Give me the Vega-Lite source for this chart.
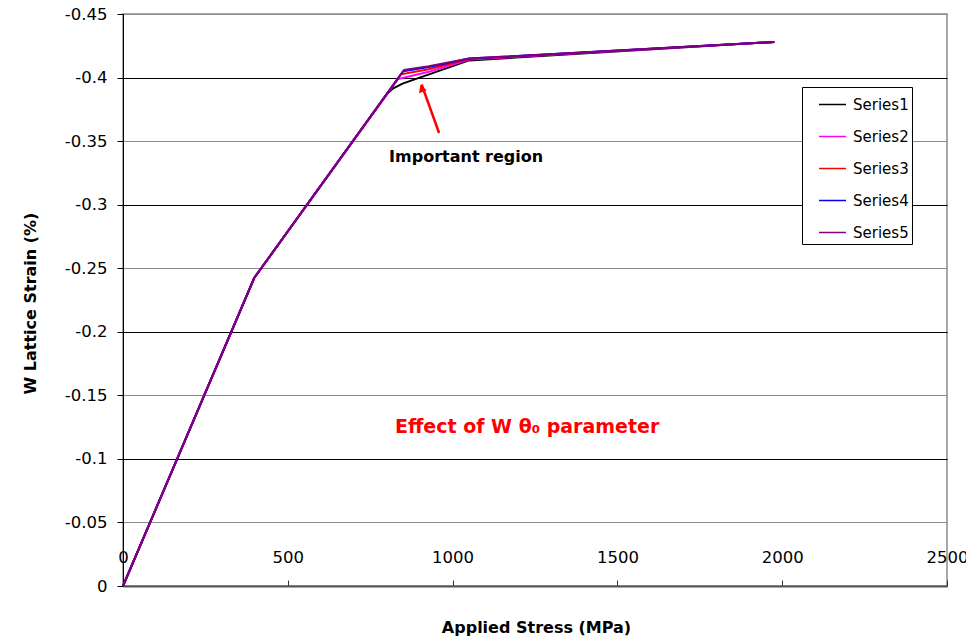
{
  "$schema": "https://vega.github.io/schema/vega-lite/v6.json",
  "width": 824,
  "height": 572,
  "autosize": "none",
  "padding": {"left": 123, "top": 14, "right": 19, "bottom": 51},
  "background": "white",
  "config": {
    "font": "DejaVu Sans",
    "view": {"stroke": "#8c8c8c", "strokeWidth": 1.5}
  },
  "layer": [
    {
      "data": {
        "values": [
          {"series": "Series1", "stress": 0, "strain": 0},
          {"series": "Series1", "stress": 398, "strain": -0.2423},
          {"series": "Series1", "stress": 800, "strain": -0.3868},
          {"series": "Series1", "stress": 820, "strain": -0.3915},
          {"series": "Series1", "stress": 848, "strain": -0.3952},
          {"series": "Series1", "stress": 1050, "strain": -0.4135},
          {"series": "Series1", "stress": 1976, "strain": -0.428},
          {"series": "Series2", "stress": 0, "strain": 0},
          {"series": "Series2", "stress": 398, "strain": -0.2423},
          {"series": "Series2", "stress": 834, "strain": -0.3988},
          {"series": "Series2", "stress": 928, "strain": -0.4045},
          {"series": "Series2", "stress": 1050, "strain": -0.4142},
          {"series": "Series2", "stress": 1976, "strain": -0.428},
          {"series": "Series3", "stress": 0, "strain": 0},
          {"series": "Series3", "stress": 398, "strain": -0.2423},
          {"series": "Series3", "stress": 843, "strain": -0.4025},
          {"series": "Series3", "stress": 928, "strain": -0.4065},
          {"series": "Series3", "stress": 1050, "strain": -0.4146},
          {"series": "Series3", "stress": 1976, "strain": -0.428},
          {"series": "Series4", "stress": 0, "strain": 0},
          {"series": "Series4", "stress": 398, "strain": -0.2423},
          {"series": "Series4", "stress": 850, "strain": -0.405},
          {"series": "Series4", "stress": 928, "strain": -0.4082},
          {"series": "Series4", "stress": 1050, "strain": -0.4149},
          {"series": "Series4", "stress": 1976, "strain": -0.428},
          {"series": "Series5", "stress": 0, "strain": 0},
          {"series": "Series5", "stress": 398, "strain": -0.2423},
          {"series": "Series5", "stress": 853, "strain": -0.406},
          {"series": "Series5", "stress": 928, "strain": -0.409},
          {"series": "Series5", "stress": 1050, "strain": -0.415},
          {"series": "Series5", "stress": 1976, "strain": -0.428}
        ]
      },
      "mark": {"type": "line", "strokeWidth": 2},
      "encoding": {
        "x": {
          "field": "stress", "type": "quantitative",
          "scale": {"domain": [0, 2500], "nice": false, "zero": false},
          "axis": {
            "title": "Applied Stress (MPa)",
            "titleFont": "DejaVu Sans", "titleFontSize": 16, "titleFontWeight": "bold", "titleColor": "black",
            "titleX": 413, "titleY": 41, "titleBaseline": "middle", "titleAnchor": "middle", "titleAlign": "center",
            "values": [0, 500, 1000, 1500, 2000, 2500],
            "labelExpr": "'' + datum.value",
            "labelFont": "DejaVu Sans", "labelFontSize": 16.5, "labelColor": "black",
            "labelPadding": -31, "labelBaseline": "top", "labelFlush": false, "labelOverlap": false,
            "tickSize": -6, "tickColor": "#333", "tickWidth": 1,
            "domainColor": "#555", "domainWidth": 2,
            "grid": false
          }
        },
        "y": {
          "field": "strain", "type": "quantitative",
          "scale": {"domain": [-0.45, 0], "reverse": true, "nice": false, "zero": false},
          "axis": {
            "title": "W Lattice Strain (%)",
            "titleFont": "DejaVu Sans", "titleFontSize": 16, "titleFontWeight": "bold", "titleColor": "black",
            "titleX": -93, "titleY": 289, "titleBaseline": "middle", "titleAngle": 270, "titleAlign": "center",
            "values": [-0.45, -0.4, -0.35, -0.3, -0.25, -0.2, -0.15, -0.1, -0.05, 0],
            "labelExpr": "'' + datum.value",
            "labelFont": "DejaVu Sans", "labelFontSize": 16.5, "labelColor": "black",
            "labelPadding": 10, "labelFlush": false, "labelOverlap": false,
            "tickSize": 6, "tickColor": "black",
            "domainColor": "black", "domainWidth": 1,
            "grid": true,
            "gridColor": {"condition": {"test": "abs(datum.value*10 - round(datum.value*10)) < 0.001", "value": "#000000"}, "value": "#8c8c8c"},
            "gridWidth": 1, "gridOpacity": 1
          }
        },
        "color": {
          "field": "series", "type": "nominal",
          "scale": {"domain": ["Series1", "Series2", "Series3", "Series4", "Series5"], "range": ["#000000", "#FF00FF", "#FF0000", "#0000FF", "#800080"]},
          "legend": {
            "title": null, "orient": "none", "legendX": 679, "legendY": 73,
            "strokeColor": "black", "fillColor": "white", "padding": 3,
            "symbolType": "stroke", "symbolSize": 729, "symbolStrokeWidth": 1.5, "symbolOffset": 13,
            "labelFont": "DejaVu Sans", "labelFontSize": 15, "labelColor": "black", "labelOffset": 6,
            "labelExpr": "datum.label + '\u00a0\u00a0'",
            "rowPadding": 9
          }
        }
      }
    },
    {
      "data": {"values": [{"stress": 959, "strain": -0.3564, "stress2": 906, "strain2": -0.3945}]},
      "mark": {"type": "rule", "color": "#FF0000", "strokeWidth": 2.5},
      "encoding": {
        "x": {"field": "stress", "type": "quantitative"},
        "y": {"field": "strain", "type": "quantitative"},
        "x2": {"field": "stress2"},
        "y2": {"field": "strain2"}
      }
    },
    {
      "data": {"values": [{"stress": 906, "strain": -0.3915}]},
      "mark": {"type": "point", "shape": "triangle-up", "filled": true, "color": "#FF0000", "size": 70, "angle": 339, "opacity": 1},
      "encoding": {
        "x": {"field": "stress", "type": "quantitative"},
        "y": {"field": "strain", "type": "quantitative"}
      }
    },
    {
      "data": {"values": [{"stress": 1041, "strain": -0.3375, "label": "Important region"}]},
      "mark": {"type": "text", "font": "DejaVu Sans", "fontSize": 16, "fontWeight": "bold", "color": "black", "align": "center", "baseline": "middle"},
      "encoding": {
        "x": {"field": "stress", "type": "quantitative"},
        "y": {"field": "strain", "type": "quantitative"},
        "text": {"field": "label"}
      }
    },
    {
      "data": {"values": [{"stress": 1226, "strain": -0.125, "label": "Effect of W θ₀ parameter"}]},
      "mark": {"type": "text", "font": "DejaVu Sans", "fontSize": 19, "fontWeight": "bold", "color": "#FF0000", "align": "center", "baseline": "middle"},
      "encoding": {
        "x": {"field": "stress", "type": "quantitative"},
        "y": {"field": "strain", "type": "quantitative"},
        "text": {"field": "label"}
      }
    }
  ]
}
